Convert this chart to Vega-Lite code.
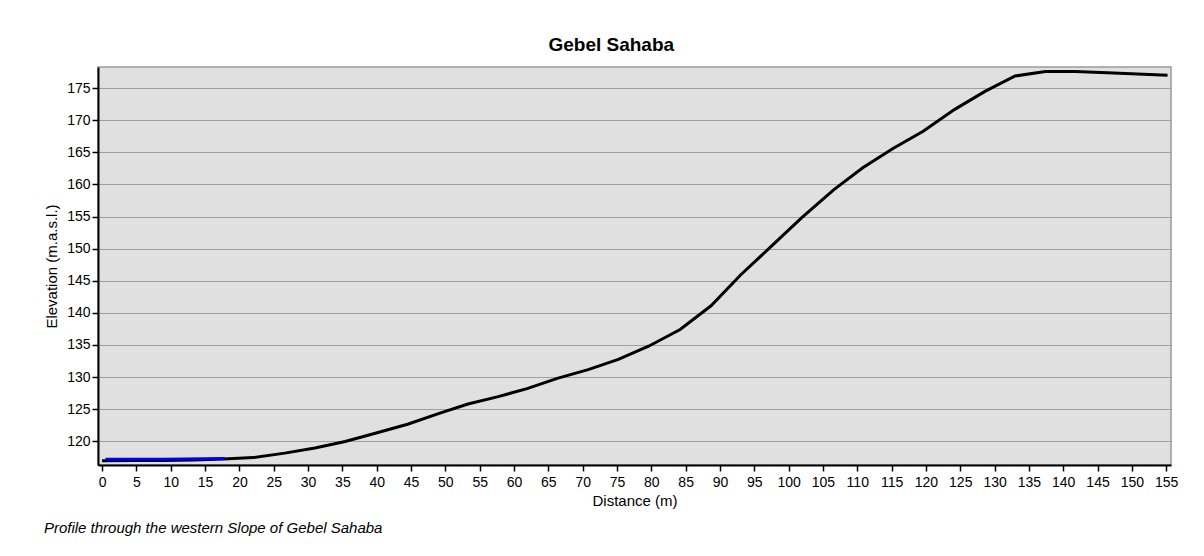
{
  "$schema": "https://vega.github.io/schema/vega-lite/v6.json",
  "autosize": {"type": "pad"},
  "padding": {"left": 43, "top": 35, "right": 5, "bottom": 5},
  "background": "white",
  "title": {
    "text": "Profile through the western Slope of Gebel Sahaba",
    "orient": "bottom",
    "anchor": "start",
    "frame": "bounds",
    "font": "Liberation Sans",
    "fontSize": 15,
    "fontStyle": "italic",
    "fontWeight": "normal",
    "color": "#000000",
    "offset": 12
  },
  "data": {
    "values": [
      {"series": "profile", "distance": 0, "elevation": 116.95},
      {"series": "profile", "distance": 4.43, "elevation": 117.0},
      {"series": "profile", "distance": 8.87, "elevation": 117.02},
      {"series": "profile", "distance": 13.3, "elevation": 117.08},
      {"series": "profile", "distance": 17.74, "elevation": 117.25},
      {"series": "profile", "distance": 22.0, "elevation": 117.45},
      {"series": "profile", "distance": 26.6, "elevation": 118.15},
      {"series": "profile", "distance": 31.0, "elevation": 118.95},
      {"series": "profile", "distance": 35.4, "elevation": 119.95},
      {"series": "profile", "distance": 39.8, "elevation": 121.25},
      {"series": "profile", "distance": 44.5, "elevation": 122.65},
      {"series": "profile", "distance": 49.1, "elevation": 124.35},
      {"series": "profile", "distance": 53.3, "elevation": 125.8},
      {"series": "profile", "distance": 57.7, "elevation": 126.95},
      {"series": "profile", "distance": 61.9, "elevation": 128.2},
      {"series": "profile", "distance": 66.3, "elevation": 129.8},
      {"series": "profile", "distance": 70.8, "elevation": 131.15},
      {"series": "profile", "distance": 75.2, "elevation": 132.75},
      {"series": "profile", "distance": 79.6, "elevation": 134.8},
      {"series": "profile", "distance": 84.2, "elevation": 137.4},
      {"series": "profile", "distance": 88.7, "elevation": 141.1},
      {"series": "profile", "distance": 93.0, "elevation": 145.9},
      {"series": "profile", "distance": 97.5, "elevation": 150.4},
      {"series": "profile", "distance": 102.0, "elevation": 154.9},
      {"series": "profile", "distance": 106.6, "elevation": 159.2},
      {"series": "profile", "distance": 110.8, "elevation": 162.6},
      {"series": "profile", "distance": 115.2, "elevation": 165.6},
      {"series": "profile", "distance": 119.6, "elevation": 168.3},
      {"series": "profile", "distance": 124.2, "elevation": 171.7},
      {"series": "profile", "distance": 128.6, "elevation": 174.5},
      {"series": "profile", "distance": 133.0, "elevation": 176.9},
      {"series": "profile", "distance": 137.4, "elevation": 177.6},
      {"series": "profile", "distance": 141.8, "elevation": 177.6},
      {"series": "profile", "distance": 146.4, "elevation": 177.4},
      {"series": "profile", "distance": 150.8, "elevation": 177.2},
      {"series": "profile", "distance": 155.2, "elevation": 177.0},
      {"series": "segment", "distance": 0.5, "elevation": 117.18},
      {"series": "segment", "distance": 9.0, "elevation": 117.2},
      {"series": "segment", "distance": 17.9, "elevation": 117.32}
    ]
  },
  "vconcat": [
    {
      "title": {
        "text": "Gebel Sahaba",
        "anchor": "middle",
        "frame": "bounds",
        "font": "Liberation Sans",
        "fontSize": 19,
        "fontWeight": "bold",
        "color": "#000000",
        "offset": 10
      },
      "width": 1073,
      "height": 398,
      "encoding": {
        "x": {
          "field": "distance",
          "type": "quantitative",
          "scale": {"domain": [-0.6, 155.7], "nice": false, "zero": false},
          "axis": {
            "title": "Distance (m)",
            "grid": false,
            "values": [0, 5, 10, 15, 20, 25, 30, 35, 40, 45, 50, 55, 60, 65, 70, 75, 80, 85, 90, 95, 100, 105, 110, 115, 120, 125, 130, 135, 140, 145, 150, 155],
            "labelAngle": 0,
            "labelOverlap": false,
            "labelFlush": false,
            "labelBound": false,
            "labelPadding": 4,
            "titlePadding": 4
          }
        },
        "y": {
          "field": "elevation",
          "type": "quantitative",
          "scale": {"domain": [116.3, 178.3], "nice": false, "zero": false},
          "axis": {
            "title": "Elevation (m.a.s.l.)",
            "grid": true,
            "values": [120, 125, 130, 135, 140, 145, 150, 155, 160, 165, 170, 175],
            "labelPadding": 2,
            "titlePadding": 7
          }
        }
      },
      "layer": [
        {
          "transform": [{"filter": "datum.series === 'profile'"}],
          "mark": {"type": "line", "color": "#000000", "strokeWidth": 3}
        },
        {
          "transform": [{"filter": "datum.series === 'segment'"}],
          "mark": {"type": "line", "color": "#0000ee", "strokeWidth": 3}
        }
      ]
    }
  ],
  "config": {
    "view": {"fill": "#e0e0e0", "stroke": "#9a9a9a", "strokeWidth": 1.5},
    "axis": {
      "labelFont": "Liberation Sans",
      "labelFontSize": 14,
      "labelColor": "#000000",
      "titleFont": "Liberation Sans",
      "titleFontSize": 15,
      "titleFontWeight": "normal",
      "titleColor": "#000000",
      "domainColor": "#000000",
      "domainWidth": 2,
      "tickColor": "#000000",
      "tickWidth": 1.5,
      "tickSize": 6,
      "gridColor": "#a0a0a0",
      "gridWidth": 1
    }
  }
}
